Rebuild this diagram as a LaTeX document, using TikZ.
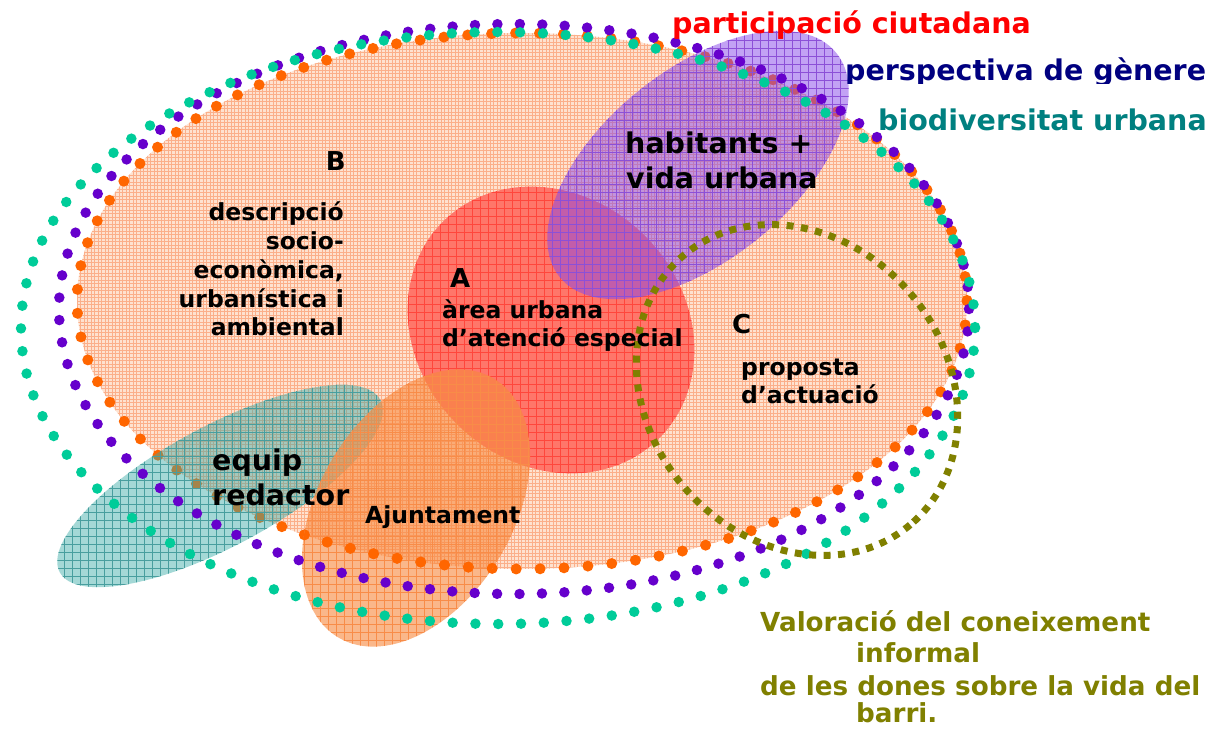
\documentclass[tikz,border=0pt]{standalone}
\usepackage{fontspec}
\setmainfont{DejaVu Sans}
\usetikzlibrary{patterns}
\definecolor{dotor}{RGB}{255,102,0}
\definecolor{dotpu}{RGB}{102,0,204}
\definecolor{dottl}{RGB}{0,204,153}
\definecolor{olivec}{RGB}{128,128,0}
\definecolor{navyc}{RGB}{0,0,128}
\definecolor{tealc}{RGB}{0,128,128}
\definecolor{redc}{RGB}{255,0,0}
\definecolor{bigfill}{RGB}{254,226,208}
\definecolor{biggrid}{RGB}{251,175,138}
\definecolor{redfill}{RGB}{255,118,106}
\definecolor{redgrid}{RGB}{255,70,60}
\definecolor{ajfill}{RGB}{248,136,60}
\definecolor{ajgrid}{RGB}{248,140,72}
\definecolor{tlfill}{RGB}{55,170,165}
\definecolor{tlgrid}{RGB}{72,158,158}
\definecolor{pufill}{RGB}{135,70,235}
\definecolor{pugrid}{RGB}{140,80,215}
\pgfdeclarepatternformonly{finegrid}{\pgfqpoint{-1pt}{-1pt}}{\pgfqpoint{4.5pt}{4.5pt}}{\pgfqpoint{3.5pt}{3.5pt}}{%
  \pgfsetlinewidth{0.5pt}%
  \pgfpathmoveto{\pgfqpoint{0pt}{0pt}}\pgfpathlineto{\pgfqpoint{0pt}{3.6pt}}%
  \pgfpathmoveto{\pgfqpoint{0pt}{0pt}}\pgfpathlineto{\pgfqpoint{3.6pt}{0pt}}%
  \pgfusepath{stroke}}
\pgfdeclarepatternformonly{coarsegrid}{\pgfqpoint{-1pt}{-1pt}}{\pgfqpoint{9pt}{9pt}}{\pgfqpoint{8pt}{8pt}}{%
  \pgfsetlinewidth{0.6pt}%
  \pgfpathmoveto{\pgfqpoint{0pt}{0pt}}\pgfpathlineto{\pgfqpoint{0pt}{8.1pt}}%
  \pgfpathmoveto{\pgfqpoint{0pt}{0pt}}\pgfpathlineto{\pgfqpoint{8.1pt}{0pt}}%
  \pgfusepath{stroke}}
\tikzset{
  ring/.style n args={3}{draw=#1, line width=#2, line cap=round, dash pattern=on 0pt off #3},
  blob/.style n args={3}{fill=#1, fill opacity=#3, postaction={pattern=coarsegrid, pattern color=#2, fill opacity=#3}},
  lbl/.style={inner sep=0pt, font=\bfseries\fontsize{23.5}{28}\selectfont},
  biglbl/.style={inner sep=0pt, font=\bfseries\fontsize{28.5}{34}\selectfont},
  letter/.style={inner sep=0pt, font=\bfseries\fontsize{26}{30}\selectfont},
  botlbl/.style={inner sep=0pt, text=olivec, font=\bfseries\fontsize{26.2}{31}\selectfont},
}
\begin{document}
\begin{tikzpicture}[x=1pt,y=-1pt]
\useasboundingbox (0,0) rectangle (1215,728);
\fill[white] (0,0) rectangle (1215,728);

% big B area
\path[fill=bigfill, postaction={pattern=finegrid, pattern color=biggrid}] (522,301) ellipse [x radius=445, y radius=268];

% red A
\path[blob={redfill}{redgrid}{1}, shift={(551,330)}, rotate=-45] (0,0) ellipse [x radius=153, y radius=133];

% orange dotted ring
\draw[ring={dotor}{11pt}{23.94pt}] (522,301) ellipse [x radius=445, y radius=268];

% teal equip redactor
\path[blob={tlfill}{tlgrid}{0.45}, shift={(220,486)}, rotate=28.3] (0,0) ellipse [x radius=182, y radius=60];

% Ajuntament
\path[blob={ajfill}{ajgrid}{0.6}, shift={(416,508)}, rotate=58.8] (0,0) ellipse [x radius=151, y radius=97];
\begin{scope}
\clip[shift={(416,508)}, rotate=58.8] (0,0) ellipse [x radius=151, y radius=97];
\draw[ring={dotor}{11pt}{23.94pt}] (522,301) ellipse [x radius=445, y radius=268];
\end{scope}

% purple habitants
\path[blob={pufill}{pugrid}{0.5}, shift={(698,165)}, rotate=39] (0,0) ellipse [x radius=178, y radius=95];

% purple and teal dotted rings
\draw[ring={dotpu}{10.5pt}{22.44pt}] (514,309) ellipse [x radius=455, y radius=285];
\draw[ring={dottl}{10.5pt}{22.79pt}] (498,328) ellipse [x radius=477, y radius=296];

% olive dashed C
\draw[olivec, line width=7pt, dash pattern=on 7pt off 7.45pt, shift={(797,390)}, rotate=-50] (0,0) ellipse [x radius=176, y radius=149];

% titles
\node[biglbl, text=redc, anchor=base west] (t1) at (672,33) {participació ciutadana};
\begin{scope}
\clip (830,40) rectangle (1215,83);
\node[biglbl, text=navyc, anchor=base west] (t2) at (845,80) {perspectiva de gènere};
\end{scope}
\node[biglbl, text=tealc, anchor=base west] (t3) at (878,130) {biodiversitat urbana};

% B
\node[letter, anchor=base east] (bl) at (346,170) {B};
\node[lbl, anchor=base east] (b1) at (344,220) {descripció};
\node[lbl, anchor=base east] (b2) at (344,249) {socio-};
\node[lbl, anchor=base east] (b3) at (344,278) {econòmica,};
\node[lbl, anchor=base east] (b4) at (344,307) {urbanística i};
\node[lbl, anchor=base east] (b5) at (344,335) {ambiental};

% A
\node[letter, anchor=base west] (al) at (450,287) {A};
\node[lbl, anchor=base west] (a1) at (442,318) {àrea urbana};
\node[lbl, anchor=base west] (a2) at (442,346) {d’atenció especial};

% C
\node[letter, anchor=base west] (cl) at (732,333) {C};
\node[lbl, anchor=base west] (c1) at (741,375) {proposta};
\node[lbl, anchor=base west] (c2) at (741,403) {d’actuació};

% habitants
\node[biglbl, anchor=base west] (h1) at (625,153) {habitants +};
\node[biglbl, anchor=base west] (h2) at (626,188) {vida urbana};

% equip
\node[biglbl, anchor=base west] (e1) at (212,470) {equip};
\node[biglbl, anchor=base west] (e2) at (212,505) {redactor};

% Ajuntament
\node[lbl, anchor=base west] (aj) at (365,523) {Ajuntament};

% bottom
\node[botlbl, anchor=base west] (v1) at (760,631) {Valoració del coneixement};
\node[botlbl, anchor=base west] (v2) at (856,662) {informal};
\node[botlbl, anchor=base west] (v3) at (760,695) {de les dones sobre la vida del};
\node[botlbl, anchor=base west] (v4) at (856,722) {barri.};
\end{tikzpicture}
\end{document}
